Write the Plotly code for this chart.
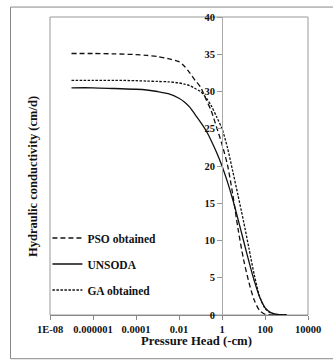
import plotly.graph_objects as go

# Pressure head (-cm) sample points (about 4 per decade)
head = [1e-7, 1e-6, 1e-5, 1e-4, 0.000316, 0.001, 0.00316, 0.01, 0.0178, 0.0316, 0.0562,
        0.1, 0.178, 0.316, 0.562, 1, 1.78, 3.16, 5.62, 10, 17.8, 31.6, 56.2, 100,
        178, 316, 1000]

# Hydraulic conductivity (cm/d) for each series
pso_k = [35.1, 35.1, 35.05, 34.95, 34.85, 34.7, 34.4, 34.0, 33.4, 32.5, 31.5,
         30.6, 29.0, 27.4, 25.2, 22.9, 20.2, 16.2, 11.5, 7.5, 4.4, 2.0, 0.6, 0.1,
         0.0, 0.0, 0.0]
unsoda_k = [30.5, 30.5, 30.4, 30.3, 30.2, 30.0, 29.7, 29.1, 28.6, 27.9, 26.9,
            25.9, 24.8, 23.4, 21.8, 20.0, 17.9, 15.5, 12.8, 10.0, 7.2, 4.6, 2.4, 1.0,
            0.35, 0.1, 0.0]
ga_k = [31.5, 31.5, 31.5, 31.45, 31.4, 31.35, 31.3, 31.15, 31.0, 30.8, 30.4,
        30.0, 29.2, 28.1, 26.6, 25.0, 22.5, 19.3, 16.0, 12.6, 9.0, 5.4, 2.5, 0.9,
        0.3, 0.08, 0.0]

x_tickvals = [1e-8, 1e-6, 1e-4, 1e-2, 1, 100, 1e4]
x_ticktext = ["1E-08", "0.000001", "0.0001", "0.01", "1", "100", "10000"]
series_names = ["PSO obtained", "UNSODA", "GA obtained"]

FONT = "Liberation Serif"
INK = "#111"

fig = go.Figure()
fig.add_trace(go.Scatter(x=head, y=pso_k, mode="lines", name=series_names[0],
                         line=dict(color=INK, width=1.3, dash="5px,3px", shape="spline", smoothing=0.8),
                         legendgroup="a"))
fig.add_trace(go.Scatter(x=head, y=unsoda_k, mode="lines", name=series_names[1],
                         line=dict(color=INK, width=1.3, shape="spline", smoothing=0.8),
                         legendgroup="b"))
fig.add_trace(go.Scatter(x=head, y=ga_k, mode="lines", name=series_names[2],
                         line=dict(color=INK, width=1.3, dash="2.5px,1.5px", shape="spline", smoothing=0.8),
                         legendgroup="c"))

fig.update_layout(
    width=333, height=360,
    margin=dict(l=50, r=15, t=15, b=45),
    paper_bgcolor="white", plot_bgcolor="white",
    font=dict(family=FONT, size=10, color=INK),
    showlegend=True,
    legend=dict(x=-0.01, y=0.307, xanchor="left", yanchor="top",
                bgcolor="rgba(0,0,0,0)", font=dict(family=FONT, size=11.5, weight="bold", color=INK),
                traceorder="grouped", tracegroupgap=7, itemwidth=30),
    xaxis=dict(type="log", range=[-8, 4], tickvals=x_tickvals, ticktext=x_ticktext,
               showline=True, linecolor="#888", linewidth=1, ticks="outside", ticklen=4,
               tickcolor="#888", showgrid=False, zeroline=False,
               tickfont=dict(family=FONT, size=10.5, weight="bold", color=INK)),
    yaxis=dict(range=[0, 40], dtick=5, anchor="free", position=8 / 12,
               showline=True, linecolor="#aaa", linewidth=1, ticks="outside", ticklen=5,
               tickcolor="#999", showgrid=False, zeroline=False,
               tickfont=dict(family=FONT, size=10.5, weight="bold", color=INK)),
    shapes=[
        dict(type="rect", xref="paper", yref="paper", x0=0, x1=1, y0=0, y1=1,
             line=dict(color="#999", width=1), layer="below"),
        dict(type="rect", xref="paper", yref="paper", x0=-0.153, x1=1.3, y0=-0.1467, y1=1.0333,
             line=dict(color="#888", width=1), layer="below"),
    ],
    annotations=[
        dict(text="Hydraulic conductivity (cm/d)", xref="paper", yref="paper",
             x=-0.1007, y=0.463, textangle=-90, showarrow=False,
             font=dict(family=FONT, size=12.5, weight="bold", color=INK)),
        dict(text="Pressure Head (-cm)", xref="paper", yref="paper",
             x=0.567, y=-0.1167, showarrow=False,
             font=dict(family=FONT, size=12.7, weight="bold", color=INK)),
    ],
)

fig.write_html("out.html")
